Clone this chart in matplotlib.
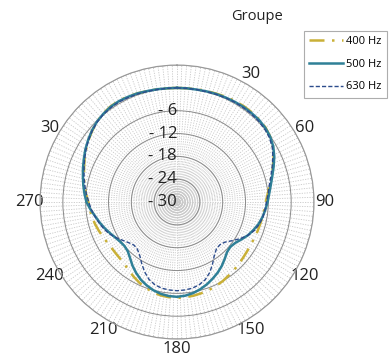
import matplotlib
matplotlib.use('Agg')
import matplotlib.pyplot as plt
import numpy as np

plt.rcParams['font.family'] = ['Open Sans', 'DejaVu Sans']

# angles in degrees (every 5 deg, closed), levels in dB
angles = list(range(0, 365, 5))

db_400 = [0, 0, 0.1, 0.2, 0.3, 0.5, 0.6, 0.7, 0.7, 0.6, 0.4, -0.1, -0.9, -2.0, -3.2, -4.3, -5.3, -6.1,
          -6.7, -7.0, -7.2, -7.4, -7.5, -7.6, -7.6, -7.5, -7.3, -7.0, -6.7, -6.4, -6.0, -5.7, -5.4, -5.2, -5.0, -4.9,
          -4.8, -4.9, -5.1, -5.5, -6.0, -6.6, -7.3, -8.0, -8.6, -8.9, -9.0, -9.0, -8.8, -8.5, -8.1, -7.7, -7.3, -7.0,
          -6.7, -6.0, -5.3, -4.7, -4.0, -3.2, -2.4, -1.6, -0.9, -0.2, 0.3, 0.6, 0.7, 0.6, 0.4, 0.2, 0.1, 0, 0]
db_500 = [0, 0, 0, 0.1, 0.2, 0.3, 0.4, 0.5, 0.5, 0.5, 0.3, -0.1, -0.8, -1.8, -3.0, -4.1, -5.0, -5.7,
          -6.2, -6.7, -7.2, -7.8, -8.6, -9.4, -10.4, -11.3, -11.7, -11.4, -10.5, -9.5, -8.6, -7.8, -7.0, -6.3, -5.7, -5.3,
          -5.1, -5.2, -5.5, -6.0, -6.7, -7.5, -8.5, -9.6, -10.8, -11.7, -12.0, -11.8, -11.3, -10.6, -9.8, -9.0, -8.2, -7.2,
          -6.2, -5.6, -5.0, -4.4, -3.7, -3.0, -2.2, -1.5, -0.8, -0.2, 0.2, 0.5, 0.6, 0.5, 0.4, 0.2, 0.1, 0, 0]
db_630 = [0, 0, 0, 0, 0.1, 0.2, 0.3, 0.3, 0.3, 0.2, 0, -0.4, -1.1, -2.2, -3.4, -4.5, -5.4, -6.0,
          -6.5, -6.8, -7.1, -7.6, -8.3, -9.4, -10.8, -12.3, -13.6, -14.1, -13.9, -12.9, -11.3, -9.6, -8.3, -7.5, -7.0, -6.8,
          -6.7, -6.8, -7.0, -7.5, -8.4, -9.8, -11.4, -12.9, -13.8, -14.0, -13.4, -12.5, -11.4, -10.3, -9.5, -8.8, -8.1, -7.4,
          -6.8, -6.1, -5.4, -4.7, -4.0, -3.2, -2.4, -1.6, -0.9, -0.3, 0.1, 0.3, 0.4, 0.3, 0.2, 0.1, 0, 0, 0]

series = [('400 Hz', db_400, '#c9b037', (0, (6, 3, 1, 3)), 1.8),
          ('500 Hz', db_500, '#2f8097', '-', 1.8),
          ('630 Hz', db_630, '#2c4c8c', (0, (3, 1.5)), 1.0)]

theta_ticks = [0, 30, 60, 90, 120, 150, 180, 210, 240, 270, 300, 330]
theta_labels = ['', '30', '60', '90', '120', '150', '180', '210', '240', '270', '30', '']
r_ticks = [-30, -24, -18, -12, -6, 0, 6]
r_labels = ['- 30', '- 24', '- 18', '- 12', '- 6']

fig = plt.figure(figsize=(3.9, 3.63), dpi=100)
ax = fig.add_axes([0.1026, 0.066, 0.7026, 0.7548], projection='polar')
ax.set_theta_zero_location('N')
ax.set_theta_direction(-1)
ax.set_rlim(-30, 6)

th = np.deg2rad(angles)
for name, vals, col, ls, lw in series:
    ax.plot(th, vals, color=col, linestyle=ls, linewidth=lw, label=name, zorder=3)

# grid
ax.set_xticks(np.deg2rad(theta_ticks))
ax.set_xticklabels(theta_labels, fontsize=12, color='#222222')
ax.set_xticks(np.deg2rad(np.arange(0, 360, 2)), minor=True)
ax.xaxis.grid(True, which='both', color='#c8c8c8', linestyle=(0, (1.5, 1.5)), linewidth=0.6)
ax.set_yticks(r_ticks)
ax.set_yticklabels([])
ax.yaxis.grid(True, color='#8a8a8a', linestyle='-', linewidth=0.7)
ax.spines['polar'].set_color('#999999')
ax.spines['polar'].set_linewidth(0.8)
ax.tick_params(axis='x', pad=-3)

for r, lab in zip(r_ticks, r_labels):
    ax.text(0, r, lab, ha='right', va='center', fontsize=12, color='#222222', zorder=4)

fig.text(0.66, 0.955, 'Groupe', ha='center', va='center', fontsize=10.5, color='#222222')
leg = fig.legend(loc='upper left', bbox_to_anchor=(0.770, 0.925), fontsize=8,
                 handlelength=3.0, labelspacing=1.05, frameon=True, fancybox=False,
                 borderpad=0.5, handletextpad=0.3, borderaxespad=0.3)
leg.get_frame().set_edgecolor('#999999')
leg.get_frame().set_linewidth(0.8)

fig.savefig('out.png', dpi=100)
